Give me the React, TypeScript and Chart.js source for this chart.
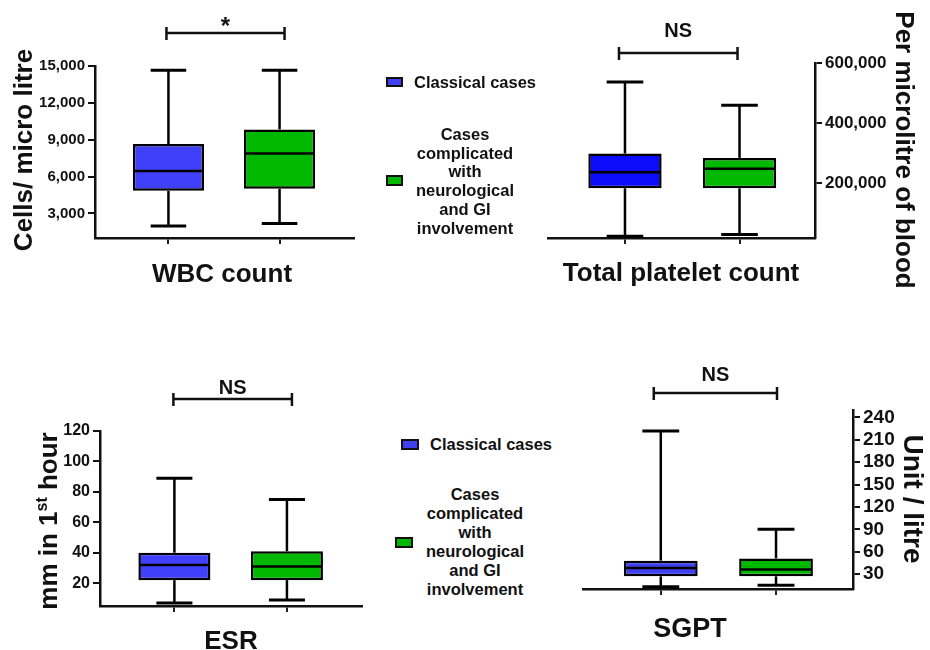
import React, { useEffect, useRef } from "react";
import { Chart, registerables } from "chart.js";
Chart.register(...registerables);

// ---------- data ----------
const groups = ["Classical cases", "Cases complicated with neurological and GI involvement"];
const groupPositions = [1, 2];

const wbcMin = [1980, 2190];
const wbcQ1 = [4840, 5000];
const wbcMedian = [6460, 7870];
const wbcQ3 = [8650, 9840];
const wbcMax = [14650, 14650];
const wbcTicks = [3000, 6000, 9000, 12000, 15000];

const plateletMin = [22000, 27700];
const plateletQ1 = [182000, 182000];
const plateletMedian = [235300, 246700];
const plateletQ3 = [297700, 283300];
const plateletMax = [536700, 458700];
const plateletTicks = [200000, 400000, 600000];

const esrMin = [7, 9];
const esrQ1 = [22, 22];
const esrMedian = [32, 31];
const esrQ3 = [40, 41];
const esrMax = [89, 75];
const esrTicks = [20, 40, 60, 80, 100, 120];

const sgptMin = [13, 15];
const sgptQ1 = [27, 27];
const sgptMedian = [38, 36];
const sgptQ3 = [48, 51];
const sgptMax = [222, 90];
const sgptTicks = [30, 60, 90, 120, 150, 180, 210, 240];

const FONT = "'Liberation Sans', Arial, Helvetica, sans-serif";

type TitlePart = { text: string; sup?: boolean };

type Panel = {
  left: number; top: number; width: number; height: number;
  min: number[]; q1: number[]; median: number[]; q3: number[]; max: number[];
  ticks: number[]; yMin: number; yMax: number; xMin: number; xMax: number;
  yPosition: "left" | "right"; yWidth: number;
  padding: { left: number; right: number; top: number; bottom: number };
  tickFont: number; blue: string; green: string;
  yTitle: TitlePart[]; yTitleX: number; yTitleY: number; yTitleRot: number; yTitleFont: number;
  xTitle: string; xTitleX: number; xTitleY: number; xTitleFont: number;
  bracketY: number; bracketShift: [number, number];
  sigText: string; sigY: number; sigFont: number; sigBaseline: CanvasTextBaseline;
};

const panels: Panel[] = [
  {
    left: 0, top: 0, width: 370, height: 300,
    min: wbcMin, q1: wbcQ1, median: wbcMedian, q3: wbcQ3, max: wbcMax,
    ticks: wbcTicks, yMin: 1000, yMax: 15000, xMin: 0.339, xMax: 2.67,
    yPosition: "left", yWidth: 80,
    padding: { left: 15, right: 16, top: 66, bottom: 42 },
    tickFont: 15, blue: "#4040fa", green: "#00b800",
    yTitle: [{ text: "Cells/ micro litre" }], yTitleX: 32, yTitleY: 150, yTitleRot: -Math.PI / 2, yTitleFont: 26,
    xTitle: "WBC count", xTitleX: 222, xTitleY: 282, xTitleFont: 26,
    bracketY: 33, bracketShift: [-2, 5], sigText: "*", sigY: 34, sigFont: 24, sigBaseline: "alphabetic",
  },
  {
    left: 530, top: 0, width: 400, height: 300,
    min: plateletMin, q1: plateletQ1, median: plateletMedian, q3: plateletQ3, max: plateletMax,
    ticks: plateletTicks, yMin: 16000, yMax: 600000, xMin: 0.328, xMax: 2.659,
    yPosition: "right", yWidth: 80,
    padding: { left: 18, right: 35, top: 63, bottom: 42 },
    tickFont: 17, blue: "#0c0cfa", green: "#00b800",
    yTitle: [{ text: "Per microlitre of blood" }], yTitleX: 366, yTitleY: 150, yTitleRot: Math.PI / 2, yTitleFont: 26,
    xTitle: "Total platelet count", xTitleX: 151, xTitleY: 281, xTitleFont: 26,
    bracketY: 53, bracketShift: [-6, -2], sigText: "NS", sigY: 31, sigFont: 20, sigBaseline: "middle",
  },
  {
    left: 0, top: 330, width: 380, height: 320,
    min: esrMin, q1: esrQ1, median: esrMedian, q3: esrQ3, max: esrMax,
    ticks: esrTicks, yMin: 5, yMax: 120, xMin: 0.339, xMax: 2.667,
    yPosition: "left", yWidth: 80,
    padding: { left: 20, right: 18, top: 101, bottom: 24 },
    tickFont: 16, blue: "#4040fa", green: "#00b800",
    yTitle: [{ text: "mm in 1" }, { text: "st", sup: true }, { text: " hour" }],
    yTitleX: 57, yTitleY: 191, yTitleRot: -Math.PI / 2, yTitleFont: 26,
    xTitle: "ESR", xTitleX: 231, xTitleY: 319, xTitleFont: 26,
    bracketY: 69, bracketShift: [-1, 5], sigText: "NS", sigY: 58, sigFont: 20, sigBaseline: "middle",
  },
  {
    left: 560, top: 330, width: 370, height: 320,
    min: sgptMin, q1: sgptQ1, median: sgptMedian, q3: sgptQ3, max: sgptMax,
    ticks: sgptTicks, yMin: 10, yMax: 250, xMin: 0.325, xMax: 2.668,
    yPosition: "right", yWidth: 60,
    padding: { left: 23, right: 17, top: 80, bottom: 41 },
    tickFont: 19, blue: "#4040f0", green: "#00b800",
    yTitle: [{ text: "Unit / litre" }], yTitleX: 344, yTitleY: 169, yTitleRot: Math.PI / 2, yTitleFont: 28,
    xTitle: "SGPT", xTitleX: 130, xTitleY: 307, xTitleFont: 27,
    bracketY: 63, bracketShift: [-7, 1], sigText: "NS", sigY: 45, sigFont: 20, sigBaseline: "middle",
  },
];

function line(ctx: CanvasRenderingContext2D, x1: number, y1: number, x2: number, y2: number) {
  ctx.beginPath();
  ctx.moveTo(x1, y1);
  ctx.lineTo(x2, y2);
  ctx.stroke();
}

function makeOverlay(p: Panel) {
  return {
    id: "boxOverlay",
    afterDatasetsDraw(chart: any) {
      const ctx: CanvasRenderingContext2D = chart.ctx;
      const ys = chart.scales.y;
      const meta = chart.getDatasetMeta(0);
      ctx.save();
      ctx.strokeStyle = "#000";
      ctx.lineCap = "butt";
      meta.data.forEach((bar: any, i: number) => {
        const { x, width } = bar.getProps(["x", "width"], true);
        const yMax = ys.getPixelForValue(p.max[i]);
        const yQ3 = ys.getPixelForValue(p.q3[i]);
        const yMed = ys.getPixelForValue(p.median[i]);
        const yQ1 = ys.getPixelForValue(p.q1[i]);
        const yMin = ys.getPixelForValue(p.min[i]);
        ctx.lineWidth = 2.5;
        line(ctx, x, yQ3, x, yMax);
        line(ctx, x, yQ1, x, yMin);
        ctx.lineWidth = 3;
        line(ctx, x - width / 4, yMax, x + width / 4, yMax);
        line(ctx, x - width / 4, yMin, x + width / 4, yMin);
        ctx.lineWidth = 2.5;
        line(ctx, x - width / 2 + 1, yMed, x + width / 2 - 1, yMed);
      });
      ctx.restore();
    },
    afterDraw(chart: any) {
      const ctx: CanvasRenderingContext2D = chart.ctx;
      const xs = chart.scales.x;
      ctx.save();
      ctx.fillStyle = "#111";
      ctx.strokeStyle = "#111";
      // significance bracket
      const x1 = xs.getPixelForValue(groupPositions[0]) + p.bracketShift[0];
      const x2 = xs.getPixelForValue(groupPositions[1]) + p.bracketShift[1];
      ctx.lineWidth = 2.5;
      line(ctx, x1, p.bracketY, x2, p.bracketY);
      line(ctx, x1, p.bracketY - 6, x1, p.bracketY + 7);
      line(ctx, x2, p.bracketY - 6, x2, p.bracketY + 7);
      ctx.font = `bold ${p.sigFont}px ${FONT}`;
      ctx.textAlign = "center";
      ctx.textBaseline = p.sigBaseline;
      ctx.fillText(p.sigText, (x1 + x2) / 2, p.sigY);
      // x title
      ctx.font = `bold ${p.xTitleFont}px ${FONT}`;
      ctx.textBaseline = "alphabetic";
      ctx.fillText(p.xTitle, p.xTitleX, p.xTitleY);
      // y title (rotated, possibly with superscript)
      ctx.translate(p.yTitleX, p.yTitleY);
      ctx.rotate(p.yTitleRot);
      ctx.textAlign = "left";
      const mainFont = `bold ${p.yTitleFont}px ${FONT}`;
      const supFont = `bold ${Math.round(p.yTitleFont * 0.6)}px ${FONT}`;
      let total = 0;
      const widths = p.yTitle.map((part) => {
        ctx.font = part.sup ? supFont : mainFont;
        const w = ctx.measureText(part.text).width;
        total += w;
        return w;
      });
      let cx = -total / 2;
      p.yTitle.forEach((part, i) => {
        ctx.font = part.sup ? supFont : mainFont;
        ctx.fillText(part.text, cx, part.sup ? -p.yTitleFont * 0.38 : 0);
        cx += widths[i];
      });
      ctx.restore();
    },
  };
}

function PanelChart({ p }: { p: Panel }) {
  const ref = useRef<HTMLCanvasElement | null>(null);
  useEffect(() => {
    if (!ref.current) return;
    const chart = new Chart(ref.current, {
      type: "bar",
      data: {
        labels: groups,
        datasets: [
          {
            label: "box",
            data: groupPositions.map((x, i) => ({ x, y: [p.q1[i], p.q3[i]] })) as any,
            backgroundColor: [p.blue, p.green],
            borderColor: "#000",
            borderWidth: 2.5,
            borderSkipped: false,
            categoryPercentage: 1,
            barPercentage: 0.64,
          } as any,
        ],
      },
      options: {
        responsive: false,
        animation: false,
        devicePixelRatio: 1,
        layout: { padding: p.padding },
        plugins: { legend: { display: false }, tooltip: { enabled: false }, title: { display: false } },
        scales: {
          x: {
            type: "linear",
            min: p.xMin,
            max: p.xMax,
            bounds: "data",
            offset: false,
            afterBuildTicks: (s: any) => {
              s.ticks = groupPositions.map((v) => ({ value: v }));
            },
            afterFit: (s: any) => {
              s.height = 20;
            },
            ticks: { callback: () => "", autoSkip: false },
            grid: {
              display: true,
              offset: false,
              drawOnChartArea: false,
              drawTicks: true,
              tickLength: 6,
              color: "#222",
              lineWidth: 2,
            },
            border: { display: true, color: "#111", width: 2.5 },
          },
          y: {
            type: "linear",
            position: p.yPosition,
            min: p.yMin,
            max: p.yMax,
            bounds: "data",
            afterBuildTicks: (s: any) => {
              s.ticks = p.ticks.map((v) => ({ value: v }));
            },
            afterFit: (s: any) => {
              s.width = p.yWidth;
            },
            ticks: {
              autoSkip: false,
              padding: 3,
              color: "#111",
              font: { family: FONT, weight: "bold", size: p.tickFont },
              callback: (v: any) => Number(v).toLocaleString("en-US"),
            },
            grid: {
              display: true,
              drawOnChartArea: false,
              drawTicks: true,
              tickLength: 7,
              color: "#111",
              lineWidth: 2,
            },
            border: { display: true, color: "#111", width: 2.5 },
          },
        } as any,
      },
      plugins: [makeOverlay(p)],
    });
    return () => chart.destroy();
  }, [p]);
  return (
    <canvas
      ref={ref}
      width={p.width}
      height={p.height}
      style={{ position: "absolute", left: p.left, top: p.top, width: p.width, height: p.height }}
    />
  );
}

const legendText: React.CSSProperties = {
  position: "absolute",
  fontFamily: FONT,
  fontWeight: "bold",
  fontSize: "16.5px",
  lineHeight: "19px",
  color: "#111",
  whiteSpace: "nowrap",
};

function Swatch({ left, top, w, h, color }: { left: number; top: number; w: number; h: number; color: string }) {
  return (
    <div
      style={{
        position: "absolute",
        left,
        top,
        width: w,
        height: h,
        background: color,
        border: "2px solid #111",
        boxSizing: "border-box",
      }}
    />
  );
}

function Legend({ top, blueSw, greenSw, classicalLeft, complexCenter, complexTop, lineH, blue }: any) {
  const lines = ["Cases", "complicated", "with", "neurological", "and GI", "involvement"];
  return (
    <>
      <Swatch left={blueSw[0]} top={blueSw[1]} w={blueSw[2]} h={blueSw[3]} color={blue} />
      <div style={{ ...legendText, left: classicalLeft, top }}>{groups[0]}</div>
      <Swatch left={greenSw[0]} top={greenSw[1]} w={greenSw[2]} h={greenSw[3]} color="#00b800" />
      <div
        style={{
          ...legendText,
          left: complexCenter - 80,
          width: 160,
          top: complexTop,
          lineHeight: lineH,
          textAlign: "center",
        }}
      >
        {lines.map((l, i) => (
          <div key={i}>{l}</div>
        ))}
      </div>
    </>
  );
}

export default function App() {
  return (
    <div
      style={{
        position: "absolute",
        left: 0,
        top: 0,
        width: 930,
        height: 650,
        background: "#fff",
        overflow: "hidden",
      }}
    >
      {panels.map((p, i) => (
        <PanelChart key={i} p={p} />
      ))}
      <Legend
        top={72.8}
        blueSw={[386, 77, 17, 10]}
        greenSw={[386, 175, 17, 11]}
        classicalLeft={414}
        complexCenter={465}
        complexTop={125}
        lineH="18.7px"
        blue="#4040f0"
      />
      <Legend
        top={434.8}
        blueSw={[401, 439, 18, 11]}
        greenSw={[395, 537, 18, 11]}
        classicalLeft={430}
        complexCenter={475}
        complexTop={485}
        lineH="19px"
        blue="#4040f0"
      />
    </div>
  );
}
